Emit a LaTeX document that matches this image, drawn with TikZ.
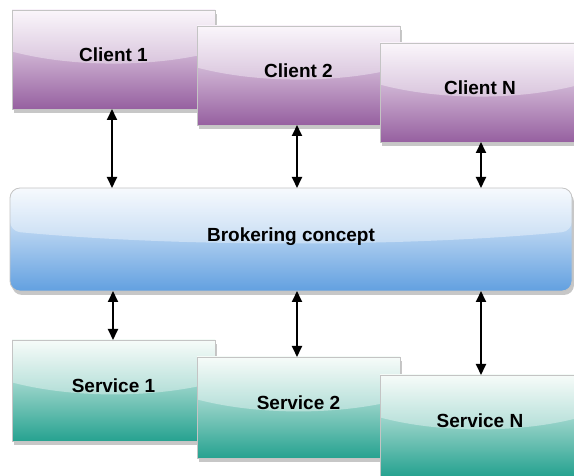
\documentclass[tikz,border=0pt]{standalone}
\usepackage{fontspec}
\setmainfont{Liberation Sans}
\usetikzlibrary{arrows.meta,calc,shadows}

\definecolor{cliTop}{RGB}{248,241,249}
\definecolor{cliBot}{RGB}{150,96,160}
\definecolor{brkTop}{RGB}{242,247,253}
\definecolor{brkBot}{RGB}{98,160,224}
\definecolor{srvTop}{RGB}{242,250,246}
\definecolor{srvBot}{RGB}{38,162,144}
\definecolor{edge}{RGB}{196,196,196}

\tikzset{
  box/.style={draw=edge, line width=0.8pt, anchor=north west,
    inner sep=0pt, outer sep=0pt,
    font=\fontsize{19}{22}\selectfont\bfseries,
    text depth=9pt,
    drop shadow={shadow xshift=2pt, shadow yshift=-4pt, fill=black!22, opacity=1},
    path picture={
      \coordinate (gA) at ($(path picture bounding box.north west)!0.42!(path picture bounding box.south west)$);
      \coordinate (gB) at ($(path picture bounding box.north east)!0.42!(path picture bounding box.south east)$);
      \fill[white, opacity=0.38] (path picture bounding box.north west)
        -- (path picture bounding box.north east) -- (gB)
        .. controls ($(gB)!0.3!(gA)+(0,-16pt)$) and ($(gA)!0.3!(gB)+(0,-16pt)$) .. (gA)
        -- cycle;
    }},
  client/.style={box, top color=cliTop, bottom color=cliBot,
    minimum width=203pt, minimum height=99pt},
  service/.style={box, top color=srvTop, bottom color=srvBot,
    minimum width=203pt, minimum height=101pt},
  broker/.style={box, top color=brkTop, bottom color=brkBot,
    rounded corners=10pt, minimum width=562pt, minimum height=103pt},
  link/.style={{Triangle[length=11pt,width=10pt]}-{Triangle[length=11pt,width=10pt]},
    line width=1.8pt, black},
}

\begin{document}
\begin{tikzpicture}[x=1pt, y=-1pt]
  \useasboundingbox (0,0) rectangle (574,476);

  % clients
  \node[client] (c1) at (12,10) {Client 1};
  \node[client] (c2) at (197,26) {Client 2};
  \node[client, minimum width=200pt] (cn) at (380,43) {Client N};

  % broker
  \node[broker] (b) at (10,188) {Brokering concept};

  % services
  \node[service] (s1) at (12,340) {Service 1};
  \node[service] (s2) at (197,357) {Service 2};
  \node[service, minimum width=200pt] (sn) at (380,375) {Service N};

  % connectors
  \draw[link] (c1.south -| 112,0) -- (b.north -| 112,0);
  \draw[link] (c2.south -| 297,0) -- (b.north -| 297,0);
  \draw[link] (cn.south -| 481,0) -- (b.north -| 481,0);
  \draw[link] (b.south -| 113,0) -- (s1.north -| 113,0);
  \draw[link] (b.south -| 297,0) -- (s2.north -| 297,0);
  \draw[link] (b.south -| 481,0) -- (sn.north -| 481,0);
\end{tikzpicture}
\end{document}
